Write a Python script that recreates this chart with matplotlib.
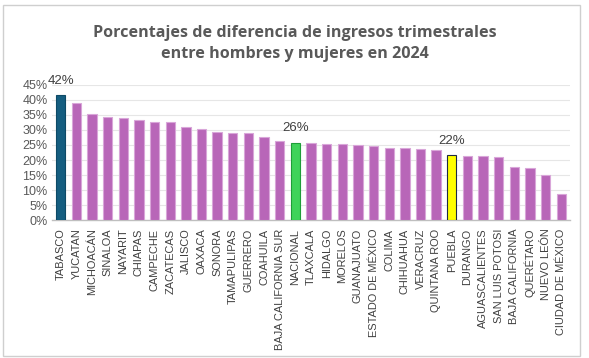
import matplotlib
matplotlib.use('Agg')
import matplotlib.pyplot as plt
from matplotlib.patches import Rectangle
from matplotlib.ticker import PercentFormatter

# Datos (porcentaje de diferencia)
estados = ["TABASCO", "YUCATAN", "MICHOACÁN", "SINALOA", "NAYARIT", "CHIAPAS",
           "CAMPECHE", "ZACATECAS", "JALISCO", "OAXACA", "SONORA", "TAMAPULIPAS",
           "GUERRERO", "COAHUILA", "BAJA CALIFORNIA SUR", "NACIONAL", "TLAXCALA",
           "HIDALGO", "MORELOS", "GUANAJUATO", "ESTADO DE MÉXICO", "COLIMA",
           "CHIHUAHUA", "VERACRUZ", "QUINTANA ROO", "PUEBLA", "DURANGO",
           "AGUASCALIENTES", "SAN LUIS POTOSI", "BAJA CALIFORNIA", "QUERÉTARO",
           "NUEVO LEÓN", "CIUDAD DE MÉXICO"]
porcentajes = [41.6, 39.1, 35.2, 34.4, 34.1, 33.3, 32.8, 32.8, 31.0, 30.4, 29.4,
               29.1, 28.9, 27.8, 26.3, 25.8, 25.6, 25.4, 25.4, 25.0, 24.6, 24.0,
               24.0, 23.8, 23.3, 21.7, 21.3, 21.3, 21.1, 17.6, 17.2, 15.0, 8.7]
etiquetas = {"TABASCO": "42%", "NACIONAL": "26%", "PUEBLA": "22%"}

morado = '#B866B8'
colores = {"TABASCO": ('#155E80', '#0E4A66'),
           "NACIONAL": ('#3FD35A', '#1E9E38'),
           "PUEBLA": ('#FFFF00', '#1F2A44')}

fig = plt.figure(figsize=(5.89, 3.58), dpi=100)
fig.patch.set_facecolor('white')

# marco del gráfico (estilo Excel)
fig.patches.append(Rectangle((3 / 589, 2 / 358), 577 / 589, 351 / 358,
                             transform=fig.transFigure, fill=False,
                             edgecolor='#CFCFCF', linewidth=1.0))

ax = fig.add_axes([0.088, 0.385, 0.88, 0.378])

x = list(range(len(estados)))
caras = [colores.get(e, (morado, '#D9A6D9'))[0] for e in estados]
bordes = [colores.get(e, (morado, '#D9A6D9'))[1] for e in estados]
ax.bar(x, [p / 100 for p in porcentajes], width=0.6, color=caras,
       edgecolor=bordes, linewidth=0.8, zorder=3)

for i, e in enumerate(estados):
    if e in etiquetas:
        ax.text(i, porcentajes[i] / 100 + 0.027, etiquetas[e], ha='center',
                va='bottom', fontsize=9.5, color='#404040',
                family='Liberation Sans')

ax.set_ylim(0, 0.45)
ax.set_xlim(-0.57, len(estados) - 0.43)
ax.set_yticks([i * 0.05 for i in range(10)])
ax.yaxis.set_major_formatter(PercentFormatter(1.0, decimals=0))
ax.set_xticks(x)
ax.set_xticklabels(estados, rotation=90, fontsize=7.9, color='#404040',
                   family='Liberation Sans')
for lbl in ax.get_yticklabels():
    lbl.set_fontsize(9)
    lbl.set_color('#595959')
    lbl.set_family('Liberation Sans')
ax.tick_params(axis='x', length=0, pad=6)
ax.tick_params(axis='y', length=0, pad=3)
ax.grid(axis='y', color='#E6E6E6', linewidth=0.8, zorder=0)
for s in ['top', 'right', 'left']:
    ax.spines[s].set_visible(False)
ax.spines['bottom'].set_color('#BFBFBF')
ax.spines['bottom'].set_linewidth(1.0)

fig.text(0.5, 0.878, "Porcentajes de diferencia de ingresos trimestrales\nentre hombres y mujeres en 2024",
         ha='center', va='center', fontsize=11.6, fontweight='bold',
         color='#595959', family='Open Sans', linespacing=1.4)

fig.savefig('out.png', dpi=100)
plt.close(fig)
